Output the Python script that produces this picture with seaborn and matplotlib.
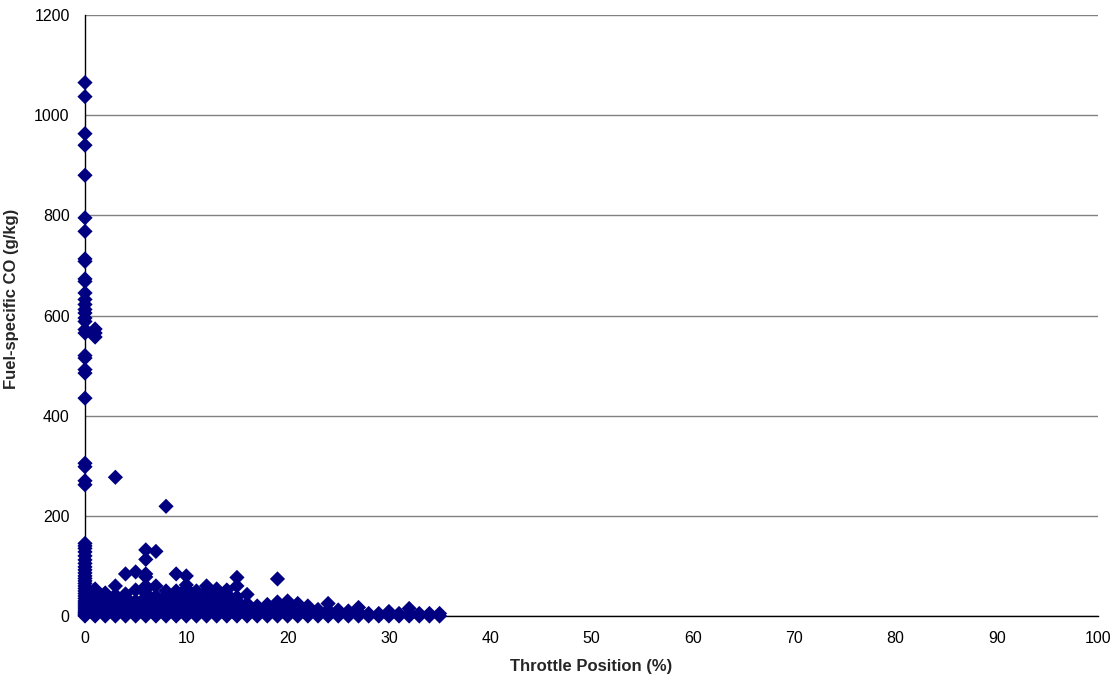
import matplotlib
matplotlib.use("Agg")
import matplotlib.pyplot as plt
import seaborn as sns
import pandas as pd

# Throttle positions (%) and the fuel-specific CO values (g/kg) observed at each
throttle_positions = list(range(0, 36))
co_by_throttle = [
    [1065, 1037, 963, 940, 880, 795, 768, 713, 708, 673, 668, 645, 632, 622, 612, 605,
     595, 588, 572, 565, 520, 515, 492, 485, 435, 305, 298, 270, 262, 145, 140, 135,
     128, 120, 112, 105, 98, 92, 86, 80, 75, 70, 65, 60, 55, 50, 45, 40, 35, 30, 26,
     22, 18, 14, 10, 7, 4, 2, 0],
    [573, 565, 557, 54, 40, 34, 28, 22, 16, 11, 6, 3, 0],
    [46, 38, 30, 24, 18, 12, 7, 3, 0],
    [277, 60, 42, 35, 28, 22, 16, 11, 6, 3, 0],
    [84, 44, 38, 30, 24, 18, 12, 7, 3, 0],
    [88, 52, 30, 24, 18, 12, 7, 3, 0],
    [132, 113, 84, 78, 60, 52, 45, 38, 30, 24, 18, 12, 7, 3, 0],
    [129, 60, 40, 32, 24, 18, 12, 7, 3, 0],
    [219, 50, 40, 32, 24, 18, 12, 7, 3, 0],
    [84, 50, 42, 34, 26, 18, 12, 7, 3, 0],
    [80, 62, 55, 45, 38, 30, 24, 18, 12, 7, 3, 0],
    [50, 40, 32, 24, 18, 12, 7, 3, 0],
    [60, 50, 40, 32, 24, 18, 12, 7, 3, 0],
    [54, 44, 36, 28, 20, 12, 7, 3, 0],
    [52, 44, 36, 28, 20, 12, 7, 3, 0],
    [77, 60, 38, 30, 22, 15, 8, 3, 0],
    [43, 25, 18, 12, 7, 3, 0],
    [20, 14, 8, 3, 0],
    [23, 16, 10, 5, 0],
    [74, 28, 20, 12, 6, 0],
    [30, 22, 14, 7, 0],
    [25, 16, 8, 0],
    [20, 12, 5, 0],
    [13, 6, 0],
    [25, 12, 5, 0],
    [12, 5, 0],
    [10, 4, 0],
    [17, 8, 0],
    [5, 0],
    [5, 0],
    [9, 3, 0],
    [5, 0],
    [15, 6, 0],
    [5, 0],
    [5, 0],
    [5, 0],
]
x_ticks = [0, 10, 20, 30, 40, 50, 60, 70, 80, 90, 100]
y_ticks = [0, 200, 400, 600, 800, 1000, 1200]

rows = [(t, v) for t, vals in zip(throttle_positions, co_by_throttle) for v in vals]
df = pd.DataFrame(rows, columns=["throttle", "co"])

sns.set_theme(style="white")
plt.rcParams["font.family"] = ["Liberation Sans", "DejaVu Sans"]

fig = plt.figure(figsize=(11.19, 6.83), dpi=100)
ax = fig.add_axes([85 / 1119, 1 - 616 / 683, (1098 - 85) / 1119, (616 - 15) / 683])

sns.scatterplot(data=df, x="throttle", y="co", ax=ax, marker="D", s=60,
                color="#000080", edgecolor="none", linewidth=0, zorder=3, clip_on=False)

ax.set_xlim(0, 100)
ax.set_ylim(0, 1200)
ax.set_xticks(x_ticks)
ax.set_yticks(y_ticks)
ax.set_xticklabels([str(v) for v in x_ticks], fontsize=11.5)
ax.set_yticklabels([str(v) for v in y_ticks], fontsize=11.5)

ax.yaxis.grid(True, color="#808080", linewidth=1.0, zorder=0)
ax.xaxis.grid(False)
ax.set_axisbelow(True)
for side in ["top", "right"]:
    ax.spines[side].set_visible(False)
for side in ["left", "bottom"]:
    ax.spines[side].set_color("black")
    ax.spines[side].set_linewidth(1.0)
ax.spines["left"].set_zorder(2)

ax.tick_params(axis="both", direction="out", length=5, width=1, color="black",
               labelcolor="black")
ax.tick_params(axis="y", pad=6)
ax.tick_params(axis="x", pad=6)

ax.set_xlabel("Throttle Position (%)", fontsize=12, fontweight="bold", labelpad=9)
ax.set_ylabel("Fuel-specific CO (g/kg)", fontsize=12, fontweight="bold")
ax.yaxis.set_label_coords(-66 / 1013, (616 - 299) / 601)

fig.savefig("out.png", dpi=100, facecolor="white")
